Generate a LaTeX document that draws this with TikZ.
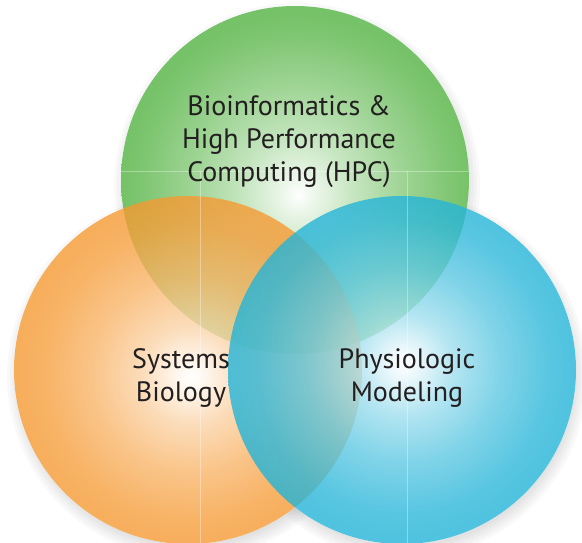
\documentclass[tikz,border=0pt]{standalone}
\usepackage{fontspec}
\setmainfont{PT Sans}
\usepackage{tikz}
\definecolor{VennGreen}{HTML}{76C268}
\definecolor{VennOrange}{HTML}{F69A33}
\definecolor{VennBlue}{HTML}{23B4D8}
\definecolor{VennText}{HTML}{231F20}

% radial fills, light spot moved off the middle
\pgfdeclareradialshading{greenball}{\pgfpoint{0.5bp}{-2.2bp}}{color(0bp)=(white); color(2bp)=(white!88!VennGreen); color(8bp)=(VennGreen!42!white); color(15bp)=(VennGreen!70!white); color(22bp)=(VennGreen!93!white); color(25bp)=(VennGreen); color(50bp)=(VennGreen)}
\pgfdeclareradialshading{orangeball}{\pgfpoint{0.4bp}{-0.9bp}}{color(0bp)=(white); color(2bp)=(white!90!VennOrange); color(7bp)=(VennOrange!42!white); color(14bp)=(VennOrange!72!white); color(21bp)=(VennOrange!94!white); color(25bp)=(VennOrange); color(50bp)=(VennOrange)}
\pgfdeclareradialshading{blueball}{\pgfpoint{0.2bp}{1bp}}{color(0bp)=(white); color(2bp)=(white!90!VennBlue); color(7bp)=(VennBlue!42!white); color(14bp)=(VennBlue!72!white); color(21bp)=(VennBlue!94!white); color(25bp)=(VennBlue); color(50bp)=(VennBlue)}

\begin{document}
\begin{tikzpicture}[x=1pt,y=-1pt,
  label/.style={align=center, text=VennText, font=\fontsize{28}{33}\selectfont},
  seam/.style={white, opacity=0.35, line width=0.7pt}]
\useasboundingbox (0,0) rectangle (582,543);
% soft shadow
\foreach \cx/\cy in {295/180,188/370,402/370} {
  \foreach \d in {-6,-3,...,9} {\fill[black, opacity=0.025] (\cx+2,\cy+6) circle (174+\d);}
}
% white base under the circles
\foreach \cx/\cy in {295/180,188/370,402/370} {\fill[white] (\cx,\cy) circle (174);}
\shade[shading=greenball] (295,180) circle (174);
\shade[shading=orangeball, opacity=0.8] (188,370) circle (174);
\shade[shading=blueball, opacity=0.8] (402,370) circle (174);
% faint seams
\draw[seam] (121,171) -- (469,171);
\draw[seam] (200.5,171) -- (200.5,543);
\draw[seam] (407.5,171) -- (407.5,543);
\node[label] (hpc) at (289,142) {Bioinformatics \&\\High Performance\\Computing (HPC)};
\node[label] (sysbio) at (181,378) {Systems\\Biology};
\node[label] (physio) at (407,378) {Physiologic\\Modeling};
\end{tikzpicture}
\end{document}
